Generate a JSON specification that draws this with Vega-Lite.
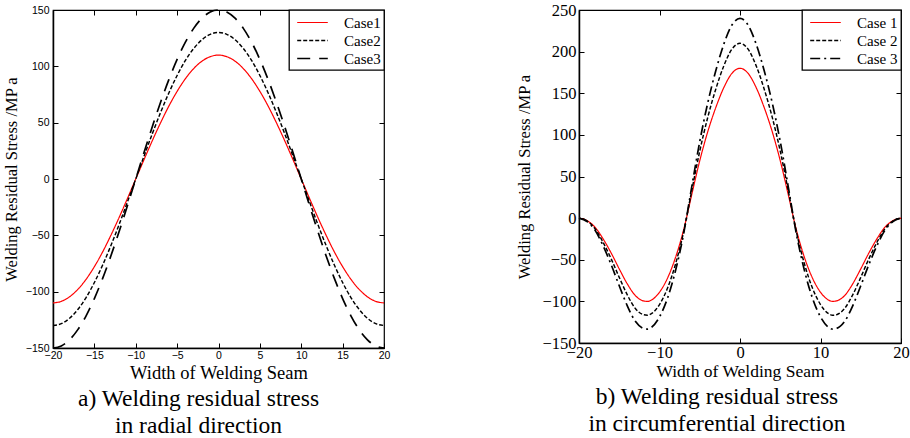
{
  "$schema": "https://vega.github.io/schema/vega-lite/v6.json",
  "background": "white",
  "padding": {"left": 2, "top": 1, "right": 8, "bottom": 5},
  "bounds": "flush",
  "spacing": 195,
  "config": {
    "view": {"stroke": "black", "strokeWidth": 1.2},
    "axis": {"grid": false, "domainColor": "black", "domainWidth": 1.5, "tickColor": "black", "tickSize": -5, "labelColor": "black", "titleColor": "black", "titleFontWeight": "normal", "labelFlush": false, "labelOverlap": false},
    "legend": {"orient": "top-right", "offset": 0, "strokeColor": "black", "strokeWidth": 1.3, "fillColor": "white", "padding": 3, "symbolType": "M-1.8,0L1.8,0", "symbolSize": 289, "symbolStrokeWidth": 1.5, "symbolFillColor": "transparent", "symbolOffset": 11, "labelFont": "'Liberation Serif', 'Times New Roman', Times, serif", "labelFontSize": 15, "labelColor": "black", "labelOffset": 22, "rowPadding": -3, "cornerRadius": 0}
  },
  "datasets": {
    "left": [
      {"s":"Case1","x":-20,"y":-110},{"s":"Case1","x":-19,"y":-108.6},{"s":"Case1","x":-18,"y":-104.6},{"s":"Case1","x":-17,"y":-98},{"s":"Case1","x":-16,"y":-89},{"s":"Case1","x":-15,"y":-77.8},{"s":"Case1","x":-14,"y":-64.7},{"s":"Case1","x":-13,"y":-49.9},{"s":"Case1","x":-12,"y":-34},{"s":"Case1","x":-11,"y":-17.2},{"s":"Case1","x":-10,"y":0},{"s":"Case1","x":-9,"y":17.2},{"s":"Case1","x":-8,"y":34},{"s":"Case1","x":-7,"y":49.9},{"s":"Case1","x":-6,"y":64.7},{"s":"Case1","x":-5,"y":77.8},{"s":"Case1","x":-4,"y":89},{"s":"Case1","x":-3,"y":98},{"s":"Case1","x":-2,"y":104.6},{"s":"Case1","x":-1,"y":108.6},{"s":"Case1","x":0,"y":110},{"s":"Case1","x":1,"y":108.6},{"s":"Case1","x":2,"y":104.6},{"s":"Case1","x":3,"y":98},{"s":"Case1","x":4,"y":89},{"s":"Case1","x":5,"y":77.8},{"s":"Case1","x":6,"y":64.7},{"s":"Case1","x":7,"y":49.9},{"s":"Case1","x":8,"y":34},{"s":"Case1","x":9,"y":17.2},{"s":"Case1","x":10,"y":0},{"s":"Case1","x":11,"y":-17.2},{"s":"Case1","x":12,"y":-34},{"s":"Case1","x":13,"y":-49.9},{"s":"Case1","x":14,"y":-64.7},{"s":"Case1","x":15,"y":-77.8},{"s":"Case1","x":16,"y":-89},{"s":"Case1","x":17,"y":-98},{"s":"Case1","x":18,"y":-104.6},{"s":"Case1","x":19,"y":-108.6},{"s":"Case1","x":20,"y":-110},
      {"s":"Case2","x":-20,"y":-130},{"s":"Case2","x":-19,"y":-128.4},{"s":"Case2","x":-18,"y":-123.6},{"s":"Case2","x":-17,"y":-115.8},{"s":"Case2","x":-16,"y":-105.2},{"s":"Case2","x":-15,"y":-91.9},{"s":"Case2","x":-14,"y":-76.4},{"s":"Case2","x":-13,"y":-59},{"s":"Case2","x":-12,"y":-40.2},{"s":"Case2","x":-11,"y":-20.3},{"s":"Case2","x":-10,"y":0},{"s":"Case2","x":-9,"y":20.3},{"s":"Case2","x":-8,"y":40.2},{"s":"Case2","x":-7,"y":59},{"s":"Case2","x":-6,"y":76.4},{"s":"Case2","x":-5,"y":91.9},{"s":"Case2","x":-4,"y":105.2},{"s":"Case2","x":-3,"y":115.8},{"s":"Case2","x":-2,"y":123.6},{"s":"Case2","x":-1,"y":128.4},{"s":"Case2","x":0,"y":130},{"s":"Case2","x":1,"y":128.4},{"s":"Case2","x":2,"y":123.6},{"s":"Case2","x":3,"y":115.8},{"s":"Case2","x":4,"y":105.2},{"s":"Case2","x":5,"y":91.9},{"s":"Case2","x":6,"y":76.4},{"s":"Case2","x":7,"y":59},{"s":"Case2","x":8,"y":40.2},{"s":"Case2","x":9,"y":20.3},{"s":"Case2","x":10,"y":0},{"s":"Case2","x":11,"y":-20.3},{"s":"Case2","x":12,"y":-40.2},{"s":"Case2","x":13,"y":-59},{"s":"Case2","x":14,"y":-76.4},{"s":"Case2","x":15,"y":-91.9},{"s":"Case2","x":16,"y":-105.2},{"s":"Case2","x":17,"y":-115.8},{"s":"Case2","x":18,"y":-123.6},{"s":"Case2","x":19,"y":-128.4},{"s":"Case2","x":20,"y":-130},
      {"s":"Case3","x":-20,"y":-150},{"s":"Case3","x":-19,"y":-148.2},{"s":"Case3","x":-18,"y":-142.7},{"s":"Case3","x":-17,"y":-133.7},{"s":"Case3","x":-16,"y":-121.4},{"s":"Case3","x":-15,"y":-106.1},{"s":"Case3","x":-14,"y":-88.2},{"s":"Case3","x":-13,"y":-68.1},{"s":"Case3","x":-12,"y":-46.4},{"s":"Case3","x":-11,"y":-23.5},{"s":"Case3","x":-10,"y":0},{"s":"Case3","x":-9,"y":23.5},{"s":"Case3","x":-8,"y":46.4},{"s":"Case3","x":-7,"y":68.1},{"s":"Case3","x":-6,"y":88.2},{"s":"Case3","x":-5,"y":106.1},{"s":"Case3","x":-4,"y":121.4},{"s":"Case3","x":-3,"y":133.7},{"s":"Case3","x":-2,"y":142.7},{"s":"Case3","x":-1,"y":148.2},{"s":"Case3","x":0,"y":150},{"s":"Case3","x":1,"y":148.2},{"s":"Case3","x":2,"y":142.7},{"s":"Case3","x":3,"y":133.7},{"s":"Case3","x":4,"y":121.4},{"s":"Case3","x":5,"y":106.1},{"s":"Case3","x":6,"y":88.2},{"s":"Case3","x":7,"y":68.1},{"s":"Case3","x":8,"y":46.4},{"s":"Case3","x":9,"y":23.5},{"s":"Case3","x":10,"y":0},{"s":"Case3","x":11,"y":-23.5},{"s":"Case3","x":12,"y":-46.4},{"s":"Case3","x":13,"y":-68.1},{"s":"Case3","x":14,"y":-88.2},{"s":"Case3","x":15,"y":-106.1},{"s":"Case3","x":16,"y":-121.4},{"s":"Case3","x":17,"y":-133.7},{"s":"Case3","x":18,"y":-142.7},{"s":"Case3","x":19,"y":-148.2},{"s":"Case3","x":20,"y":-150}
    ],
    "right": [
      {"s":"Case 1","x":-20,"y":0},{"s":"Case 1","x":-19,"y":-3},{"s":"Case 1","x":-18,"y":-11},{"s":"Case 1","x":-17,"y":-25},{"s":"Case 1","x":-16,"y":-42},{"s":"Case 1","x":-15,"y":-61},{"s":"Case 1","x":-14,"y":-79},{"s":"Case 1","x":-13,"y":-93},{"s":"Case 1","x":-12,"y":-99.4},{"s":"Case 1","x":-11.5,"y":-100},{"s":"Case 1","x":-11,"y":-98.4},{"s":"Case 1","x":-10,"y":-89},{"s":"Case 1","x":-9,"y":-72},{"s":"Case 1","x":-8,"y":-47},{"s":"Case 1","x":-7,"y":-14},{"s":"Case 1","x":-6,"y":28},{"s":"Case 1","x":-5,"y":69},{"s":"Case 1","x":-4,"y":104},{"s":"Case 1","x":-3,"y":133},{"s":"Case 1","x":-2,"y":157},{"s":"Case 1","x":-1,"y":174},{"s":"Case 1","x":0,"y":180},{"s":"Case 1","x":1,"y":174},{"s":"Case 1","x":2,"y":157},{"s":"Case 1","x":3,"y":133},{"s":"Case 1","x":4,"y":104},{"s":"Case 1","x":5,"y":69},{"s":"Case 1","x":6,"y":28},{"s":"Case 1","x":7,"y":-14},{"s":"Case 1","x":8,"y":-47},{"s":"Case 1","x":9,"y":-72},{"s":"Case 1","x":10,"y":-89},{"s":"Case 1","x":11,"y":-98.4},{"s":"Case 1","x":11.5,"y":-100},{"s":"Case 1","x":12,"y":-99.4},{"s":"Case 1","x":13,"y":-93},{"s":"Case 1","x":14,"y":-79},{"s":"Case 1","x":15,"y":-61},{"s":"Case 1","x":16,"y":-42},{"s":"Case 1","x":17,"y":-25},{"s":"Case 1","x":18,"y":-11},{"s":"Case 1","x":19,"y":-3},{"s":"Case 1","x":20,"y":0},
      {"s":"Case 2","x":-20,"y":0},{"s":"Case 2","x":-19,"y":-3.5},{"s":"Case 2","x":-18,"y":-12.8},{"s":"Case 2","x":-17,"y":-29.2},{"s":"Case 2","x":-16,"y":-49},{"s":"Case 2","x":-15,"y":-71.2},{"s":"Case 2","x":-14,"y":-92.2},{"s":"Case 2","x":-13,"y":-108.5},{"s":"Case 2","x":-12,"y":-116},{"s":"Case 2","x":-11.5,"y":-116.7},{"s":"Case 2","x":-11,"y":-114.8},{"s":"Case 2","x":-10,"y":-103.8},{"s":"Case 2","x":-9,"y":-84},{"s":"Case 2","x":-8,"y":-54.8},{"s":"Case 2","x":-7,"y":-16.3},{"s":"Case 2","x":-6,"y":32.7},{"s":"Case 2","x":-5,"y":80.5},{"s":"Case 2","x":-4,"y":121.3},{"s":"Case 2","x":-3,"y":155.2},{"s":"Case 2","x":-2,"y":183.2},{"s":"Case 2","x":-1,"y":203},{"s":"Case 2","x":0,"y":210},{"s":"Case 2","x":1,"y":203},{"s":"Case 2","x":2,"y":183.2},{"s":"Case 2","x":3,"y":155.2},{"s":"Case 2","x":4,"y":121.3},{"s":"Case 2","x":5,"y":80.5},{"s":"Case 2","x":6,"y":32.7},{"s":"Case 2","x":7,"y":-16.3},{"s":"Case 2","x":8,"y":-54.8},{"s":"Case 2","x":9,"y":-84},{"s":"Case 2","x":10,"y":-103.8},{"s":"Case 2","x":11,"y":-114.8},{"s":"Case 2","x":11.5,"y":-116.7},{"s":"Case 2","x":12,"y":-116},{"s":"Case 2","x":13,"y":-108.5},{"s":"Case 2","x":14,"y":-92.2},{"s":"Case 2","x":15,"y":-71.2},{"s":"Case 2","x":16,"y":-49},{"s":"Case 2","x":17,"y":-29.2},{"s":"Case 2","x":18,"y":-12.8},{"s":"Case 2","x":19,"y":-3.5},{"s":"Case 2","x":20,"y":0},
      {"s":"Case 3","x":-20,"y":0},{"s":"Case 3","x":-19,"y":-4},{"s":"Case 3","x":-18,"y":-14.7},{"s":"Case 3","x":-17,"y":-33.3},{"s":"Case 3","x":-16,"y":-56},{"s":"Case 3","x":-15,"y":-81.3},{"s":"Case 3","x":-14,"y":-105.3},{"s":"Case 3","x":-13,"y":-124},{"s":"Case 3","x":-12,"y":-132.5},{"s":"Case 3","x":-11.5,"y":-133.3},{"s":"Case 3","x":-11,"y":-131.2},{"s":"Case 3","x":-10,"y":-118.7},{"s":"Case 3","x":-9,"y":-96},{"s":"Case 3","x":-8,"y":-62.7},{"s":"Case 3","x":-7,"y":-18.7},{"s":"Case 3","x":-6,"y":37.3},{"s":"Case 3","x":-5,"y":92},{"s":"Case 3","x":-4,"y":138.7},{"s":"Case 3","x":-3,"y":177.3},{"s":"Case 3","x":-2,"y":209.3},{"s":"Case 3","x":-1,"y":232},{"s":"Case 3","x":0,"y":240},{"s":"Case 3","x":1,"y":232},{"s":"Case 3","x":2,"y":209.3},{"s":"Case 3","x":3,"y":177.3},{"s":"Case 3","x":4,"y":138.7},{"s":"Case 3","x":5,"y":92},{"s":"Case 3","x":6,"y":37.3},{"s":"Case 3","x":7,"y":-18.7},{"s":"Case 3","x":8,"y":-62.7},{"s":"Case 3","x":9,"y":-96},{"s":"Case 3","x":10,"y":-118.7},{"s":"Case 3","x":11,"y":-131.2},{"s":"Case 3","x":11.5,"y":-133.3},{"s":"Case 3","x":12,"y":-132.5},{"s":"Case 3","x":13,"y":-124},{"s":"Case 3","x":14,"y":-105.3},{"s":"Case 3","x":15,"y":-81.3},{"s":"Case 3","x":16,"y":-56},{"s":"Case 3","x":17,"y":-33.3},{"s":"Case 3","x":18,"y":-14.7},{"s":"Case 3","x":19,"y":-4},{"s":"Case 3","x":20,"y":0}
    ]
  },
  "hconcat": [
    {
      "width": 331,
      "height": 338,
      "data": {"name": "left"},
      "title": {"text": ["a) Welding residual stress", "in radial direction"], "orient": "bottom", "anchor": "middle", "dx": -20, "font": "'Liberation Serif', 'Times New Roman', Times, serif", "fontSize": 23.5, "fontWeight": "normal", "lineHeight": 27, "offset": 5, "color": "black"},
      "layer": [
        {
          "mark": {"type": "line", "interpolate": "monotone"},
          "encoding": {
            "x": {"field": "x", "type": "quantitative", "scale": {"domain": [-20, 20], "nice": false, "zero": false},
              "axis": {"values": [-20, -15, -10, -5, 0, 5, 10, 15, 20], "labelFont": "'Liberation Sans', Arial, sans-serif", "labelFontSize": 10.5, "labelPadding": 7, "title": "Width of Welding Seam", "titleFont": "'Liberation Serif', 'Times New Roman', Times, serif", "titleFontSize": 18.5, "titlePadding": 3}},
            "y": {"field": "y", "type": "quantitative", "scale": {"domain": [-150, 150], "nice": false, "zero": false},
              "axis": {"values": [-150, -100, -50, 0, 50, 100, 150], "labelFont": "'Liberation Sans', Arial, sans-serif", "labelFontSize": 10.5, "labelPadding": 9, "title": "Welding Residual Stress /MP a", "titleFont": "'Liberation Serif', 'Times New Roman', Times, serif", "titleFontSize": 16.5, "titlePadding": 6}},
            "color": {"field": "s", "type": "nominal", "scale": {"domain": ["Case1", "Case2", "Case3"], "range": ["#ff0000", "#000000", "#000000"]}, "legend": {"title": null, "labelExpr": "datum.label + '\u00a0\u00a0\u00a0'"}},
            "strokeDash": {"field": "s", "type": "nominal", "scale": {"domain": ["Case1", "Case2", "Case3"], "range": [[1, 0], [4, 2], [13, 9]]}, "legend": {"title": null, "labelExpr": "datum.label + '\u00a0\u00a0\u00a0'"}},
            "strokeWidth": {"field": "s", "type": "nominal", "scale": {"domain": ["Case1", "Case2", "Case3"], "range": [1.2, 1.7, 1.2]}, "legend": null}
          }
        },
        {
          "mark": {"type": "line", "opacity": 0},
          "encoding": {
            "x": {"field": "x", "type": "quantitative", "axis": {"orient": "top", "values": [-20, -15, -10, -5, 0, 5, 10, 15, 20], "labels": false, "title": null, "domain": false}},
            "y": {"field": "y", "type": "quantitative", "axis": {"orient": "right", "values": [-150, -100, -50, 0, 50, 100, 150], "labels": false, "title": null, "domain": false}},
            "detail": {"field": "s"}
          }
        }
      ],
      "resolve": {"axis": {"x": "independent", "y": "independent"}}
    },
    {
      "width": 322,
      "height": 333,
      "data": {"name": "right"},
      "title": {"text": ["b) Welding residual stress", "in circumferential direction"], "orient": "bottom", "anchor": "middle", "dx": -23, "font": "'Liberation Serif', 'Times New Roman', Times, serif", "fontSize": 23.5, "fontWeight": "normal", "lineHeight": 27, "offset": 5, "color": "black"},
      "layer": [
        {
          "mark": {"type": "line", "interpolate": "monotone"},
          "encoding": {
            "x": {"field": "x", "type": "quantitative", "scale": {"domain": [-20, 20], "nice": false, "zero": false},
              "axis": {"values": [-20, -10, 0, 10, 20], "labelFont": "'Liberation Serif', 'Times New Roman', Times, serif", "labelFontSize": 16.5, "labelPadding": 6, "title": "Width of Welding Seam", "titleFont": "'Liberation Serif', 'Times New Roman', Times, serif", "titleFontSize": 17.5, "titlePadding": 2}},
            "y": {"field": "y", "type": "quantitative", "scale": {"domain": [-150, 250], "nice": false, "zero": false},
              "axis": {"values": [-150, -100, -50, 0, 50, 100, 150, 200, 250], "labelFont": "'Liberation Serif', 'Times New Roman', Times, serif", "labelFontSize": 16.5, "labelPadding": 8, "title": "Welding Residual Stress /MP a", "titleFont": "'Liberation Serif', 'Times New Roman', Times, serif", "titleFontSize": 16.5, "titlePadding": 9}},
            "color": {"field": "s", "type": "nominal", "scale": {"domain": ["Case 1", "Case 2", "Case 3"], "range": ["#ff0000", "#000000", "#000000"]}, "legend": {"title": null, "labelExpr": "datum.label + '\u00a0\u00a0'"}},
            "strokeDash": {"field": "s", "type": "nominal", "scale": {"domain": ["Case 1", "Case 2", "Case 3"], "range": [[1, 0], [4, 2], [10, 4, 2, 4]]}, "legend": {"title": null, "labelExpr": "datum.label + '\u00a0\u00a0'"}},
            "strokeWidth": {"field": "s", "type": "nominal", "scale": {"domain": ["Case 1", "Case 2", "Case 3"], "range": [1.2, 1.7, 1.2]}, "legend": null}
          }
        },
        {
          "mark": {"type": "line", "opacity": 0},
          "encoding": {
            "x": {"field": "x", "type": "quantitative", "axis": {"orient": "top", "values": [-20, -10, 0, 10, 20], "labels": false, "title": null, "domain": false}},
            "y": {"field": "y", "type": "quantitative", "axis": {"orient": "right", "values": [-150, -100, -50, 0, 50, 100, 150, 200, 250], "labels": false, "title": null, "domain": false}},
            "detail": {"field": "s"}
          }
        }
      ],
      "resolve": {"axis": {"x": "independent", "y": "independent"}}
    }
  ],
  "resolve": {"scale": {"x": "independent", "y": "independent", "color": "independent", "strokeDash": "independent", "strokeWidth": "independent"}, "legend": {"color": "independent", "strokeDash": "independent"}}
}
